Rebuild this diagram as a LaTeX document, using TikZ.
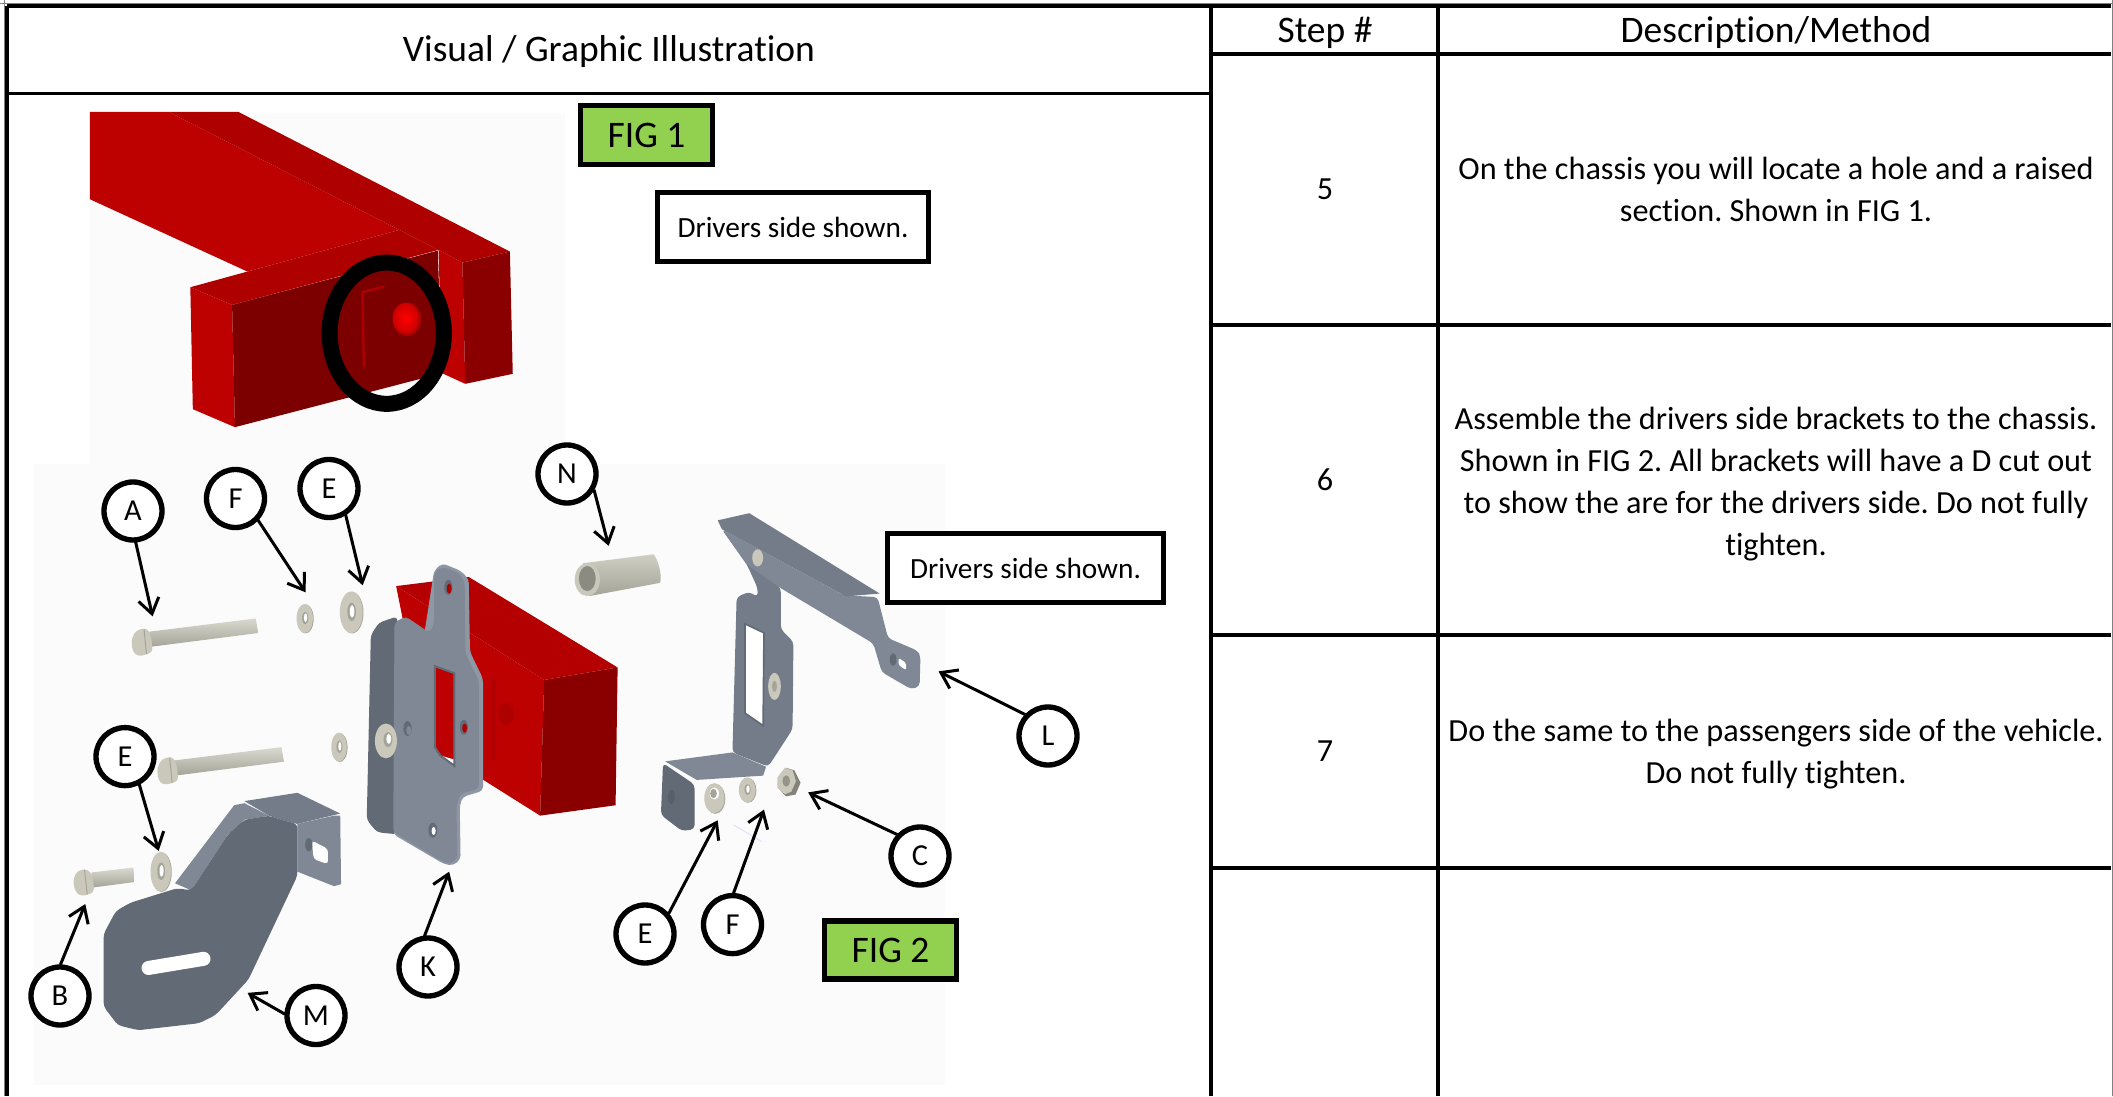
\documentclass[tikz,border=0pt]{standalone}
\usepackage{fontspec}
\setmainfont{Carlito}[RawFeature={-liga;-clig}]
\usetikzlibrary{arrows.meta}
\definecolor{grnbox}{HTML}{92D050}
\definecolor{bgfig}{HTML}{FBFBFB}
\definecolor{tan1}{HTML}{C9C8BB}
\definecolor{tan2}{HTML}{A5A498}
\definecolor{tan3}{HTML}{DAD9CF}
\definecolor{gface}{HTML}{7F8894}
\definecolor{gdark}{HTML}{626A75}
\definecolor{gmid}{HTML}{737C88}
\definecolor{glight}{HTML}{8E97A4}
\definecolor{r1}{HTML}{BD0000}
\definecolor{r2}{HTML}{AF0000}
\definecolor{r3}{HTML}{7D0000}
\definecolor{r4}{HTML}{8A0000}
\tikzset{
  cropA/.style={shift={(60,90)},x=0.010714cm,y=-0.01cm},
  cropB/.style={shift={(20,440)},x=0.012245cm,y=-0.012448cm},
  cropC/.style={shift={(520,440)},x=0.012626cm,y=-0.010714cm},
  rule/.style={line width=0.1cm,black},
  headtext/.style={font=\fontsize{32}{38}\selectfont,inner sep=0},
  bodytext/.style={font=\fontsize{27.5}{35.8}\selectfont,inner sep=0,align=center},
  tag/.style={circle,draw=black,line width=0.16cm,fill=white,minimum size=1.74cm,inner sep=0,font=\fontsize{26}{30}\selectfont},
  notebox/.style={draw=black,line width=0.15cm,fill=white,inner sep=0,font=\fontsize{25}{28}\selectfont},
  figbox/.style={draw=black,line width=0.17cm,fill=grnbox,inner sep=0,font=\fontsize{32}{38}\selectfont},
  callout/.style={line width=0.09cm,black,-{Straight Barb[length=0.45cm,width=0.62cm,line width=0.09cm]},shorten <=-0.02cm},
  softedge/.style={rounded corners=0.12cm},
}
\newcommand{\washerpart}[4]{%
  \fill[tan2] (#1+2,#2+1) ellipse [x radius=#3,y radius=#4];
  \fill[tan1] (#1,#2) ellipse [x radius=#3,y radius=#4];
  \fill[tan2] (#1+1,#2-1) ellipse [x radius=0.38*#3,y radius=0.44*#4];
  \fill[white] (#1+2,#2-2) ellipse [x radius=0.2*#3,y radius=0.3*#4];
}
\begin{document}
\frenchspacing
\begin{tikzpicture}[x=0.03cm,y=-0.03cm]
\useasboundingbox (0,0) rectangle (2113,1096);
\fill[white] (0,0) rectangle (2113,1096);
\fill[bgfig] (90,113) rectangle (565,465);
\fill[bgfig] (34,464) rectangle (945,1085);

% ---------- FIG 1 chassis
\begin{scope}[cropA]
  \fill[r1] (84,66) -- (305,66) -- (950,420) -- (525,545) -- (84,328) -- cycle;
  \fill[r2] (305,66) -- (500,66) -- (1260,485) -- (1127,518) -- (1060,480) -- (950,420) -- cycle;
  \fill[r2] (950,420) -- (1060,480) -- (482,645) -- (365,592) -- (525,545) -- cycle;
  \fill[r1] (365,592) -- (482,645) -- (490,1012) -- (372,958) -- cycle;
  \fill[r3] (482,645) -- (1058,482) -- (1070,850) -- (490,1012) -- cycle;
  \fill[r1] (1060,480) -- (1127,518) -- (1135,882) -- (1070,850) -- cycle;
  \fill[r4] (1127,518) -- (1260,485) -- (1268,852) -- (1135,882) -- cycle;
  \draw[r2,line width=0.07cm] (908,590) -- (847,607) -- (851,830);
  \fill[r2] (972,688) ellipse [x radius=40,y radius=50];
  \shade[inner color=red!100!black,outer color=red!80!black] (968,685) ellipse [x radius=36,y radius=46];
  \draw[black,line width=0.48cm] (915,730) ellipse [x radius=160,y radius=212];
\end{scope}

% ---------- FIG 2 parts
\begin{scope}[cropB]
  % red block
  \fill[r1] (922,352) -- (1285,578) -- (1275,905) -- (1000,735) -- cycle;
  \fill[r1!95!black] (922,352) -- (1100,330) -- (1465,548) -- (1285,578) -- cycle;
  \fill[r4] (1285,578) -- (1465,548) -- (1460,880) -- (1275,905) -- cycle;
  \draw[r2,line width=0.09cm] (1160,575) -- (1160,770);
  \fill[r2] (1192,660) ellipse [x radius=20,y radius=26];
  % bracket K
  \fill[gdark,softedge] (860,470) -- (880,440) -- (925,425) -- (925,950) -- (875,945) -- (850,915) -- cycle;
  \fill[glight,softedge] (1015,315) -- (1035,297) -- (1080,315) -- (1100,335) -- (1103,510) -- (1135,575) -- (1135,845) -- (1085,860) -- (1078,880) -- (1080,1010) -- (1062,1025) -- (1040,1022) -- (915,950) -- cycle;
  \fill[gface,softedge] (1015,320) -- (1035,305) -- (1075,320) -- (1090,340) -- (1092,515) -- (1125,580) -- (1125,840) -- (1080,852) -- (1070,880) -- (1072,1008) -- (1058,1020) -- (1040,1018) -- (915,945) -- (918,440) -- (945,425) -- (1005,465) -- (1015,440) -- cycle;
  \fill[r1] (1017,545) -- (1065,562) -- (1065,785) -- (1030,760) -- (1017,740) -- cycle;
  \fill[white] (1030,760) -- (1065,770) -- (1065,785) -- cycle;
  \draw[gdark,line width=0.06cm] (1017,545) -- (1065,562) -- (1065,785) -- (1030,760) -- (1017,740) -- cycle;
  \fill[gdark] (1050,355) ellipse [x radius=10,y radius=18];
  \fill[r2] (1052,358) ellipse [x radius=6,y radius=12];
  \fill[gdark] (1088,692) ellipse [x radius=10,y radius=18];
  \fill[r2] (1090,694) ellipse [x radius=6,y radius=11];
  \fill[gdark] (950,695) ellipse [x radius=10,y radius=18];
  \fill[gface] (953,700) ellipse [x radius=6,y radius=11];
  \fill[gdark] (1012,940) ellipse [x radius=11,y radius=18];
  \fill[white] (1014,942) ellipse [x radius=5,y radius=10];
  % washer on K
  \fill[tan1] (897,725) ellipse [x radius=27,y radius=42];
  \fill[tan2] (902,722) ellipse [x radius=11,y radius=18];
  \fill[white] (904,720) ellipse [x radius=6,y radius=12];
  % long bolts
  \foreach \sx/\sy in {0/0,63/310}{
    \begin{scope}[shift={(\sx,\sy)}]
      \shade[top color=tan3,bottom color=tan2] (315,462) -- (578,430) -- (584,465) -- (322,498) -- cycle;
      \fill[tan1,softedge] (273,480) -- (285,458) -- (312,453) -- (322,475) -- (325,512) -- (290,522) -- (276,510) -- cycle;
      \draw[tan2,line width=0.03cm] (304,455) -- (310,516);
    \end{scope}
  }
  % short bolt
  \shade[top color=tan3,bottom color=tan2] (175,1042) -- (278,1030) -- (281,1065) -- (180,1078) -- cycle;
  \fill[tan1,softedge] (130,1060) -- (140,1038) -- (165,1033) -- (178,1050) -- (182,1090) -- (150,1100) -- (135,1088) -- cycle;
  \draw[tan2,line width=0.03cm] (158,1035) -- (165,1095);
  % washers
  \washerpart{698}{430}{20}{35}
  \washerpart{812}{415}{28}{50}
  \washerpart{782}{740}{19}{35}
  \washerpart{345}{1040}{25}{48}
  % bracket M
  \fill[gface] (380,1068) -- (525,880) -- (550,875) -- (610,905) -- (550,915) -- (510,950) -- (420,1085) -- cycle;
  \fill[gmid] (550,870) -- (680,850) -- (785,900) -- (680,925) -- (640,915) -- (610,905) -- cycle;
  \fill[gface] (680,925) -- (770,905) -- (785,905) -- (787,1070) -- (770,1075) -- (680,1040) -- cycle;
  \fill[gdark,softedge] (205,1190) -- (235,1135) -- (270,1115) -- (385,1080) -- (420,1085) -- (510,950) -- (550,915) -- (610,905) -- (640,915) -- (680,925) -- (680,1050) -- (560,1300) -- (480,1385) -- (440,1405) -- (290,1422) -- (240,1410) -- (205,1365) -- cycle;
  \draw[white,line width=0.42cm,line cap=round] (315,1272) -- (450,1250);
  \fill[white,rounded corners=0.1cm] (715,965) -- (755,985) -- (755,1022) -- (720,1010) -- cycle;
  \fill[gdark] (708,975) ellipse [x radius=9,y radius=16];
  % coordinates for callouts
  \coordinate (endA) at (325,425);
  \coordinate (endF) at (700,367);
  \coordinate (endE) at (840,350);
  \coordinate (endEb) at (340,990);
  \coordinate (endB) at (160,1118);
  \coordinate (endM) at (558,1332);
  \coordinate (endK) at (1052,1040);
  \coordinate (endN) at (1443,255);
\end{scope}

\begin{scope}[cropC]
  % sleeve N
  \shade[top color=tan3!80!tan2,bottom color=tan2] (150,345) -- (318,320) .. controls (330,340) and (338,380) .. (333,400) -- (165,437) -- cycle;
  \fill[tan1] (160,391) ellipse [x radius=30,y radius=46];
  \fill[tan2!85!black] (160,388) ellipse [x radius=20,y radius=35];
  % bracket L web
  \fill[gmid,softedge] (515,440) -- (545,425) -- (565,440) -- (565,415) -- (540,350) -- (480,250) -- (620,415) -- (620,530) -- (650,565) -- (648,810) -- (590,915) -- (505,875) -- cycle;
  \fill[white] (535,515) -- (580,540) -- (578,800) -- (535,765) -- cycle;
  \draw[gdark,line width=0.05cm] (535,515) -- (580,540) -- (578,800) -- (535,765) -- cycle;
  \fill[tan1] (605,690) ellipse [x radius=15,y radius=38];
  \fill[tan2] (605,690) ellipse [x radius=6,y radius=16];
  % bar
  \fill[gface,softedge] (480,250) -- (770,435) -- (850,440) -- (875,555) -- (945,590) -- (952,605) -- (950,690) -- (930,698) -- (860,650) -- (840,570) -- (620,415) -- (540,350) -- cycle;
  \fill[gmid] (470,225) -- (545,205) -- (855,430) -- (775,438) -- (480,250) -- cycle;
  \fill[tan1] (565,330) ellipse [x radius=13,y radius=24];
  \fill[white,rounded corners=0.05cm] (900,610) -- (918,625) -- (918,645) -- (900,630) -- cycle;
  \fill[gdark] (887,615) ellipse [x radius=8,y radius=18];
  % lower flange and tab
  \fill[gface] (345,900) -- (505,875) -- (585,915) -- (578,940) -- (420,952) -- cycle;
  \fill[gdark,softedge] (340,905) -- (415,965) -- (415,1090) -- (385,1095) -- (335,1050) -- cycle;
  \fill[gface!70!black] (360,1000) ellipse [x radius=8,y radius=20];
  % washers and nut
  \fill[tan2] (464,1005) ellipse [x radius=24,y radius=42];
  \fill[tan1] (462,1003) ellipse [x radius=24,y radius=42];
  \fill[white] (462,990) ellipse [x radius=11,y radius=17];
  \fill[tan2] (460,990) ellipse [x radius=8,y radius=13];
  \washerpart{540}{980}{20}{35}
  \fill[tan2!80!black] (616,940) -- (632,918) -- (652,925) -- (667,960) -- (655,993) -- (632,998) -- (614,975) -- cycle;
  \fill[tan1] (612,945) -- (630,918) -- (648,925) -- (656,955) -- (645,985) -- (630,992) -- (612,975) -- cycle;
  \fill[tan2!90!black] (633,955) ellipse [x radius=9,y radius=16];
  \draw[blue!12!white,line width=0.03cm] (508,1078) -- (575,1125);
  \coordinate (endEc) at (470,1065);
  \coordinate (endFb) at (580,1035);
  \coordinate (endC) at (685,987);
  \coordinate (endL) at (995,648);
\end{scope}

% ---------- table rules
\coordinate (tl) at (7,6);
\coordinate (tr) at (2111,6);
\coordinate (bl) at (7,1096);
\coordinate (v1t) at (1211,6);
\coordinate (v1b) at (1211,1096);
\coordinate (v2t) at (1438,6);
\coordinate (v2b) at (1438,1096);
\draw[rule] (tl) -- (tr);
\draw[rule] (tl) -- (bl);
\draw[rule] (v1t) -- (v1b);
\draw[rule] (v2t) -- (v2b);
\draw[rule] (7,93.5) -- (v1t |- 0,93.5);
\draw[rule] (1211,54) -- (2111,54);
\draw[rule] (1211,325) -- (2111,325);
\draw[rule] (1211,635) -- (2111,635);
\draw[rule] (1211,868) -- (2111,868);
\draw[gray,line width=0.03cm] (2112.3,0) -- (2112.3,1096);
\draw[gray,line width=0.03cm] (4.6,0) -- (4.6,1096);
\draw[gray,line width=0.03cm] (0,4) -- (2113,4);

% ---------- table text
\node[headtext] (hvis) at (609,52) {Visual / Graphic Illustration};
\node[headtext] (hstep) at (1325,33) {Step \#};
\node[headtext] (hdesc) at (1776,33) {Description/Method};
\node[bodytext] (n5) at (1325,189) {5};
\node[bodytext] (n6) at (1325,480) {6};
\node[bodytext] (n7) at (1325,751) {7};
\node[bodytext] (d5) at (1776,189) {On the chassis you will locate a hole and a raised\\section. Shown in FIG 1.};
\node[bodytext] (d6) at (1776,484) {Assemble the drivers side brackets to the chassis.\\Shown in FIG 2. All brackets will have a D cut out\\to show the are for the drivers side. Do not fully\\tighten.};
\node[bodytext] (d7) at (1776,754) {Do the same to the passengers side of the vehicle.\\Do not fully tighten.};

% ---------- boxes
\node[figbox,minimum width=3.96cm,minimum height=1.77cm] (fig1) at (646.5,135) {FIG 1};
\node[figbox,minimum width=3.96cm,minimum height=1.75cm] (fig2) at (890.5,950) {FIG 2};
\node[notebox,minimum width=8.15cm,minimum height=2.08cm] (note1) at (793,227) {Drivers side shown.};
\node[notebox,minimum width=8.3cm,minimum height=2.08cm] (note2) at (1025.5,568) {Drivers side shown.};

% ---------- callouts
\node[tag] (tA) at (133,511) {A};
\node[tag] (tF) at (235.5,498.5) {F};
\node[tag] (tE) at (329,488.5) {E};
\node[tag] (tEb) at (125,756.6) {E};
\node[tag] (tB) at (60,996) {B};
\node[tag] (tM) at (316,1015.5) {M};
\node[tag] (tK) at (428,967) {K};
\node[tag] (tN) at (567,474) {N};
\node[tag] (tEc) at (645,934) {E};
\node[tag] (tFb) at (732.5,924.6) {F};
\node[tag] (tC) at (920,856) {C};
\node[tag] (tL) at (1048,736) {L};
\draw[callout] (tA.-85) -- (endA);
\draw[callout] (tF.-44) -- (endF);
\draw[callout] (tE.-58) -- (endE);
\draw[callout] (tEb.-63) -- (endEb);
\draw[callout] (tB.89) -- (endB);
\draw[callout] (tM.177) -- (endM);
\draw[callout] (tK.96) -- (endK);
\draw[callout] (tN.-31) -- (endN);
\draw[callout] (tEc.41) -- (endEc);
\draw[callout] (tFb.88) -- (endFb);
\draw[callout] (tC.137) -- (endC);
\draw[callout] (tL.137) -- (endL);
\end{tikzpicture}
\end{document}
